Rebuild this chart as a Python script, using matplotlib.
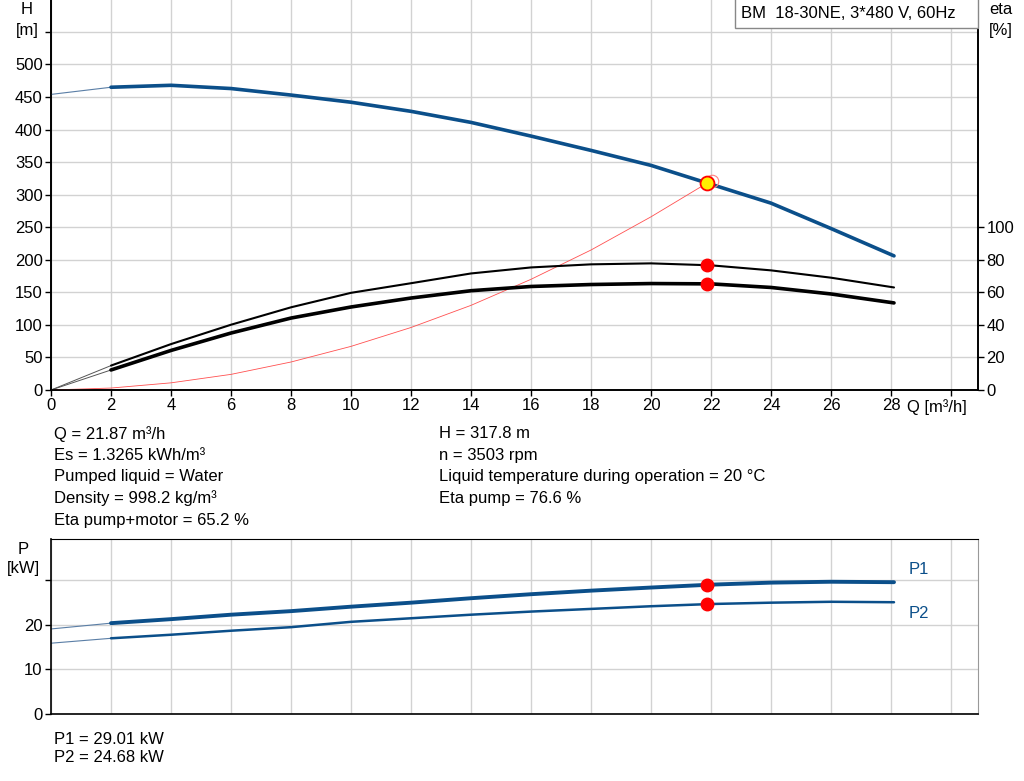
import matplotlib
matplotlib.use("Agg")
from matplotlib import pyplot as plt
from matplotlib.patches import Rectangle

plt.rcParams["font.family"] = ["Liberation Sans", "DejaVu Sans"]
plt.rcParams["font.size"] = 12

# pump curve data
q = [0, 2, 4, 6, 8, 10, 12, 14, 16, 18, 20, 22, 24, 26, 28.1]
head = [454, 465, 468, 463, 453, 442, 428, 411, 390, 368, 345, 316, 287, 248, 206]
eta_pump = [0, 15.0, 28.2, 40.1, 50.8, 59.7, 65.6, 71.6, 75.3, 77.2, 77.8, 76.6, 73.5, 69.0, 63.0]
eta_total = [0, 12.3, 24.3, 35.0, 44.2, 51.0, 56.5, 61.0, 63.6, 64.8, 65.4, 65.2, 63.0, 59.0, 53.5]
p1 = [19.1, 20.4, 21.3, 22.3, 23.1, 24.1, 25.0, 26.0, 26.9, 27.7, 28.4, 29.05, 29.5, 29.7, 29.6]
p2 = [15.9, 17.0, 17.8, 18.7, 19.5, 20.7, 21.5, 22.3, 23.0, 23.6, 24.2, 24.7, 25.0, 25.2, 25.1]

# system curve up to the duty point
q_sys = [0, 2, 4, 6, 8, 10, 12, 14, 16, 18, 20, 21.87]
h_sys = [0, 3, 11, 24, 43, 67, 96, 130, 170, 215, 266, 317.8]

# duty point
q_duty = 21.87
h_duty = 317.8
eta_pump_duty = 76.6
eta_total_duty = 65.2
p1_duty = 29.01
p2_duty = 24.68

blue = "#0b4f8a"
grid_c = "#d2d2d2"
xmax = 30.9

fig = plt.figure(figsize=(10.24, 7.81), dpi=100)
ax = fig.add_axes([51 / 1024, 1 - 390 / 781, 927 / 1024, 390 / 781])
ax_eta = ax.twinx()
axp = fig.add_axes([51 / 1024, 1 - 714 / 781, 927 / 1024, 175 / 781])

xticks = list(range(0, 31, 2))
hticks = list(range(0, 551, 50))

# ---- top: head and efficiency ----
ax.set_xlim(0, xmax)
ax.set_ylim(0, 599)
ax_eta.set_ylim(0, 599 * 0.4)
ax.set_xticks(xticks)
ax.set_xticklabels([str(t) if t <= 28 else "" for t in xticks])
ax.set_yticks(hticks)
ax.set_yticklabels([str(t) if t <= 500 else "" for t in hticks])
ax_eta.set_yticks(range(0, 101, 20))
ax.grid(True, color=grid_c, linewidth=1.0)
ax.set_axisbelow(True)
for a in (ax, ax_eta):
    a.spines["top"].set_visible(False)
    a.spines["left"].set_linewidth(1.2)
    a.spines["right"].set_linewidth(1.2)
    a.spines["bottom"].set_linewidth(1.2)
    a.tick_params(direction="out", length=4, width=1, pad=2, labelsize=12)

ax.plot(q[:2], head[:2], color="#5a7ea6", linewidth=0.8, zorder=3)
ax.plot(q[1:], head[1:], color=blue, linewidth=2.6, solid_capstyle="round", zorder=3)
ax.plot(q_sys, h_sys, color="#ff5050", linewidth=0.6, zorder=3)

ax_eta.plot(q[:2], eta_pump[:2], color="#555555", linewidth=0.7)
ax_eta.plot(q[:2], eta_total[:2], color="#555555", linewidth=0.7)
ax_eta.plot(q[1:], eta_pump[1:], color="black", linewidth=1.5, solid_capstyle="round")
ax_eta.plot(q[1:], eta_total[1:], color="black", linewidth=2.6, solid_capstyle="round")
ax_eta.plot([q_duty, q_duty], [eta_pump_duty, eta_total_duty], linestyle="none",
            marker="o", markersize=9, color="red")
ax_eta.plot([q_duty + 0.15], [h_duty * 0.4 + 1.0], marker="o", markersize=9,
            markerfacecolor="none", markeredgecolor="#ff8080", markeredgewidth=0.8)
ax_eta.plot([q_duty], [h_duty * 0.4], marker="o", markersize=10,
            markerfacecolor="#ffee00", markeredgecolor="red", markeredgewidth=1.3)

fig.text(27 / 1024, 1 - 9 / 781, "H", ha="center", va="center")
fig.text(27 / 1024, 1 - 30 / 781, "[m]", ha="center", va="center")
fig.text(1001 / 1024, 1 - 9 / 781, "eta", ha="center", va="center")
fig.text(1001 / 1024, 1 - 30 / 781, "[%]", ha="center", va="center")
fig.text(907 / 1024, 1 - 407 / 781, "Q [m³/h]", ha="left", va="center")

# title box in the top right corner
box_x0 = (735 - 51) / 927
box_y0 = 1 - 28 / 390
ax_eta.add_patch(Rectangle((box_x0, box_y0), 1 - box_x0, 1.01 - box_y0,
                           transform=ax.transAxes, facecolor="white",
                           edgecolor="#888888", linewidth=1, zorder=5, clip_on=False))
ax_eta.text((741 - 51) / 927, 1 - 14 / 390, "BM  18-30NE, 3*480 V, 60Hz",
            transform=ax.transAxes, ha="left", va="center", fontsize=12, zorder=6)

left_lines = ["Q = 21.87 m³/h", "Es = 1.3265 kWh/m³", "Pumped liquid = Water",
              "Density = 998.2 kg/m³", "Eta pump+motor = 65.2 %"]
right_lines = ["H = 317.8 m", "n = 3503 rpm",
               "Liquid temperature during operation = 20 °C", "Eta pump = 76.6 %"]
for i, s in enumerate(left_lines):
    fig.text(54 / 1024, 1 - (434 + 21.5 * i) / 781, s, ha="left", va="center")
for i, s in enumerate(right_lines):
    fig.text(439 / 1024, 1 - (434 + 21.5 * i) / 781, s, ha="left", va="center")

# ---- bottom: power ----
axp.set_xlim(0, xmax)
axp.set_ylim(0, 39.3)
axp.set_xticks(xticks)
axp.set_xticklabels([])
axp.tick_params(axis="x", length=0)
axp.set_yticks([0, 10, 20, 30])
axp.set_yticklabels(["0", "10", "20", ""])
axp.tick_params(axis="y", direction="out", length=4, width=1, pad=2, labelsize=12)
axp.grid(True, color=grid_c, linewidth=1.0)
axp.set_axisbelow(True)
axp.spines["right"].set_color("#999999")
axp.spines["left"].set_linewidth(1.2)
axp.spines["bottom"].set_linewidth(1.2)

axp.plot(q[:2], p1[:2], color="#5a7ea6", linewidth=0.8)
axp.plot(q[:2], p2[:2], color="#5a7ea6", linewidth=0.8)
axp.plot(q[1:], p1[1:], color=blue, linewidth=2.8, solid_capstyle="round")
axp.plot(q[1:], p2[1:], color=blue, linewidth=1.8, solid_capstyle="round")
axp.plot([q_duty, q_duty], [p1_duty, p2_duty], linestyle="none",
         marker="o", markersize=9, color="red", zorder=4)
axp.text(28.6, 32.4, "P1", color=blue, ha="left", va="center")
axp.text(28.6, 22.5, "P2", color=blue, ha="left", va="center")

fig.text(23 / 1024, 1 - 549 / 781, "P", ha="center", va="center")
fig.text(23 / 1024, 1 - 569 / 781, "[kW]", ha="center", va="center")
fig.text(54 / 1024, 1 - 740 / 781, "P1 = 29.01 kW", ha="left", va="center")
fig.text(54 / 1024, 1 - 758 / 781, "P2 = 24.68 kW", ha="left", va="center")

fig.savefig("out.png", dpi=100)
